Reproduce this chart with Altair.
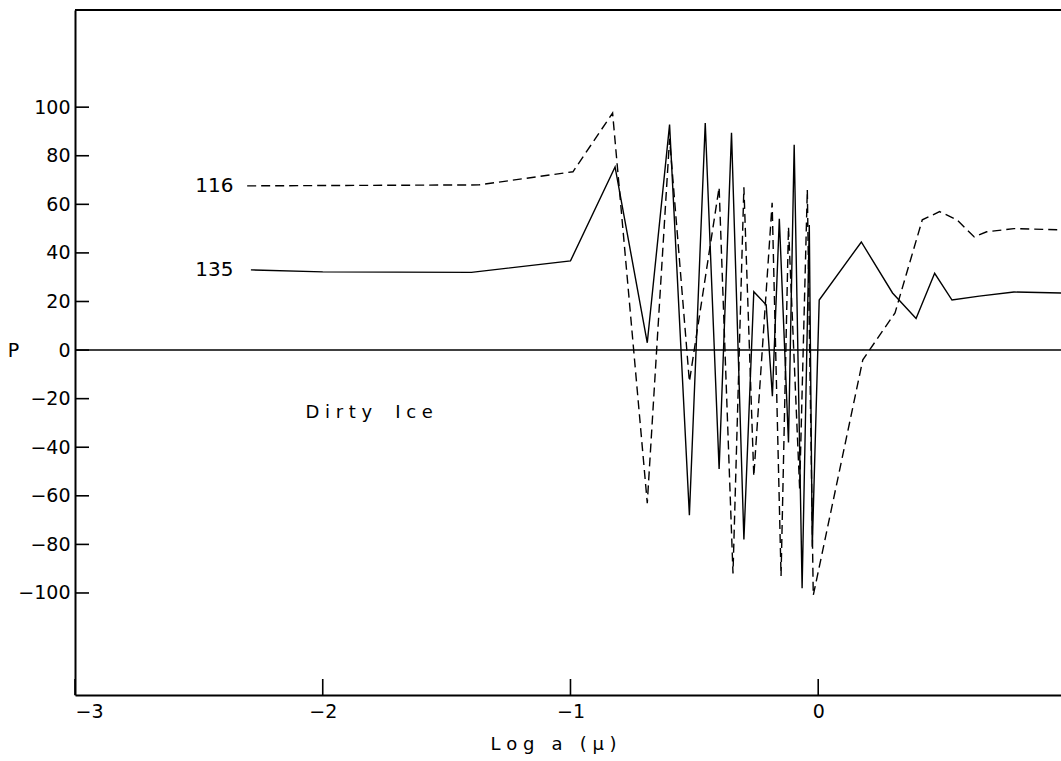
import altair as alt
import pandas as pd

# Solid curve (label 135)
x135 = [-2.29, -2.0, -1.40, -1.00, -0.82, -0.69, -0.60, -0.52, -0.456, -0.40, -0.35, -0.30,
        -0.26, -0.21, -0.185, -0.157, -0.12, -0.097, -0.065, -0.036, -0.024, 0.004, 0.174,
        0.30, 0.395, 0.47, 0.54, 0.65, 0.79, 0.98]
p135 = [33, 32.2, 32, 36.7, 75.4, 3, 92.8, -68, 93.5, -49, 89.5, -78,
        24, 18.6, -19, 54, -38, 84.5, -98, 51.5, -81, 20.6, 44.5,
        23.5, 13, 31.6, 20.6, 22.2, 23.9, 23.5]

# Dashed curve (label 116)
x116 = [-2.305, -1.37, -0.99, -0.83, -0.69, -0.60, -0.52, -0.40, -0.344, -0.30, -0.26,
        -0.186, -0.15, -0.12, -0.075, -0.044, -0.02, 0.18, 0.31, 0.355, 0.42, 0.49, 0.56,
        0.63, 0.68, 0.79, 0.98]
p116 = [67.6, 68, 73.4, 97.6, -63, 87, -13, 67, -92, 67, -52,
        60.6, -93, 50.7, -57, 66, -101, -4, 15.3, 31, 53.6, 57, 53.6,
        46.6, 48.7, 50, 49.5]

y_ticks = [-100, -80, -60, -40, -20, 0, 20, 40, 60, 80, 100]
x_ticks = [-3, -2, -1, 0]

labels_txt = ["116", "135"]
labels_x = [-2.36, -2.36]
labels_y = [67.6, 33]

NB = "\u00a0"
note_txt = ["D i r t y " + NB + NB + " I c e"]
note_x = [-2.07]
note_y = [-26]
x_title = "L o g " + NB + " a " + NB + " ( μ )"

W, H = 986, 685
XD = [-3, 0.98]
YD = [-142, 140]
FONT = "DejaVu Sans"

xs = alt.Scale(domain=XD, nice=False, zero=False)
ys = alt.Scale(domain=YD, nice=False, zero=False)

d135 = pd.DataFrame({"x": x135, "p": p135, "i": range(len(x135))})
d116 = pd.DataFrame({"x": x116, "p": p116, "i": range(len(x116))})

solid = alt.Chart(d135).mark_line(color="black", strokeWidth=1.4, clip=True).encode(
    x=alt.X("x:Q", scale=xs,
            axis=alt.Axis(values=x_ticks, format="d", ticks=False, domain=True,
                          domainColor="black", domainWidth=2, grid=False, labelFont=FONT,
                          labelFontSize=19, labelColor="black", labelPadding=7,
                          title=x_title,
                          titleFont=FONT, titleFontSize=18, titleFontWeight="normal",
                          titleColor="black", titleX=478, titleY=40)),
    y=alt.Y("p:Q", scale=ys,
            axis=alt.Axis(values=y_ticks, format="d", ticks=False, domain=True,
                          domainColor="black", domainWidth=2, grid=False, labelFont=FONT,
                          labelFontSize=19, labelColor="black", labelPadding=5, title="P",
                          titleAngle=0, titleFont=FONT, titleFontSize=19,
                          titleFontWeight="normal", titleColor="black", titleX=-62,
                          titleY=340, titleAlign="center", titleBaseline="middle")),
    order="i:Q",
)

dashed = alt.Chart(d116).mark_line(color="black", strokeWidth=1.4, strokeDash=[9, 5],
                                   clip=True).encode(
    x=alt.X("x:Q", scale=xs), y=alt.Y("p:Q", scale=ys), order="i:Q")

zero = alt.Chart(pd.DataFrame({"v": [0]})).mark_rule(color="black", strokeWidth=1.4).encode(
    y=alt.Y("v:Q", scale=ys), x=alt.value(0), x2=alt.value(W))

top = alt.Chart(pd.DataFrame({"v": [YD[1]]})).mark_rule(color="black", strokeWidth=2).encode(
    y=alt.Y("v:Q", scale=ys), x=alt.value(0), x2=alt.value(W))

yt = alt.Chart(pd.DataFrame({"v": y_ticks})).mark_rule(color="black", strokeWidth=1.6).encode(
    y=alt.Y("v:Q", scale=ys), x=alt.value(0), x2=alt.value(14))

xt = alt.Chart(pd.DataFrame({"v": x_ticks})).mark_rule(color="black", strokeWidth=1.6).encode(
    x=alt.X("v:Q", scale=xs), y=alt.value(H), y2=alt.value(H - 16))

lab = alt.Chart(pd.DataFrame({"t": labels_txt, "x": labels_x, "y": labels_y})).mark_text(
    align="right", baseline="middle", font=FONT, fontSize=20, color="black").encode(
    x=alt.X("x:Q", scale=xs), y=alt.Y("y:Q", scale=ys), text="t:N")

note = alt.Chart(pd.DataFrame({"t": note_txt, "x": note_x, "y": note_y})).mark_text(
    align="left", baseline="middle", font=FONT, fontSize=18, color="black").encode(
    x=alt.X("x:Q", scale=xs), y=alt.Y("y:Q", scale=ys), text="t:N")

chart = alt.layer(solid, dashed, zero, top, yt, xt, lab, note).properties(
    width=W, height=H,
    autosize=alt.AutoSizeParams(type="none"),
    padding={"left": 75, "top": 10, "right": 0, "bottom": 66},
    background="white",
).configure_view(stroke=None)

chart.save("out.html", embed_options={"renderer": "svg", "actions": False})
